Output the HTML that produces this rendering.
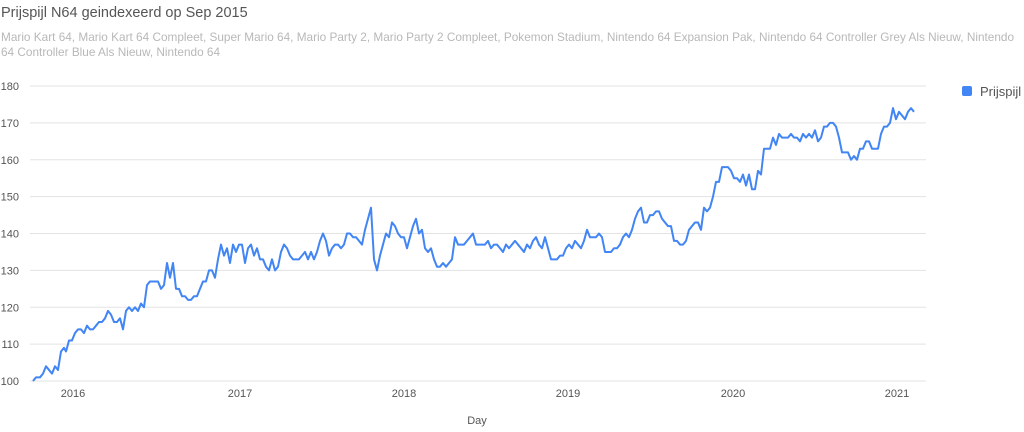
<!DOCTYPE html>
<html><head><meta charset="utf-8"><style>
body{margin:0;background:#fff;font-family:"Liberation Sans",sans-serif}
</style></head><body>
<svg width="1024" height="427" xmlns="http://www.w3.org/2000/svg" font-family="Liberation Sans, sans-serif">
<text x="1" y="17" font-size="14.5" fill="#555">Prijspijl N64 geindexeerd op Sep 2015</text>
<text x="1" y="41" font-size="11.8" fill="#b8b8b8">Mario Kart 64, Mario Kart 64 Compleet, Super Mario 64, Mario Party 2, Mario Party 2 Compleet, Pokemon Stadium, Nintendo 64 Expansion Pak, Nintendo 64 Controller Grey Als Nieuw, Nintendo</text>
<text x="1" y="56" font-size="11.8" fill="#b8b8b8">64 Controller Blue Als Nieuw, Nintendo 64</text>
<g id="grid" stroke="#e3e3e3" stroke-width="1"></g>
<g id="yl" font-size="11" fill="#555" text-anchor="end"></g>
<g font-size="11" fill="#555" text-anchor="middle">
<text x="73" y="397">2016</text><text x="240" y="397">2017</text><text x="404" y="397">2018</text>
<text x="568" y="397">2019</text><text x="733" y="397">2020</text><text x="897" y="397">2021</text>
<text x="477" y="424">Day</text></g>
<polyline id="ln" fill="none" stroke="#4285f4" stroke-width="2" stroke-linejoin="round"/>
<rect x="962" y="86" width="10" height="10" rx="2" fill="#4285f4"/>
<text x="980" y="96" font-size="13" fill="#555">Prijspijl</text>
</svg>
<script>
var Y=function(v){return 381-(v-100)*3.6875};
var g=document.getElementById('grid'),yl=document.getElementById('yl'),ns="http://www.w3.org/2000/svg";
for(var v=100;v<=180;v+=10){var l=document.createElementNS(ns,'line');l.setAttribute('x1',30);l.setAttribute('x2',926);l.setAttribute('y1',Y(v));l.setAttribute('y2',Y(v));g.appendChild(l);
var t=document.createElementNS(ns,'text');t.setAttribute('x',19);t.setAttribute('y',Y(v)+4);t.textContent=v;yl.appendChild(t);}
var d=[100,101,101,102,104,103,102,104,103,108,109,108,111,111,113,114,114,113,115,114,114,115,116,116,117,119,118,116,116,117,114,119,120,119,120,119,121,120,126,127];
var xs=[33,36,40,43,46,49,52,55,58,61,64,66,69,72,75,78,81,84,87,90,93,96,99,102,105,108,111,114,117,120,123,126,129,132,135,138,141,144,147,150];
var rest=[127,125,126,132,128,132,125,125,123,123,122,122,123,123,125,127,127,130,130,128,133,137,134,136,132,137,135,137,137,132,136,137,134,136,133,133,131,130,133,130,131,135,137,136,134,133,133,133,134,135,133,135,133,135,138,140,138,134,136,137,137,136,137,140,140,139,139,138,137,141,144,147,133,130,134,137,140,139,143,142,140,139,139,136,139,142,144,140,141,136,135,136,133,131,131,132,131,132,133,139,137,137,137,138,139,140,137,137,137,137,138,136,137,137,136,135,137,136,137,138,137,136,135,137,136,138,139,137,136,139,136,133,133,133,134,134,136,137,136,138,137,136,138,141,139,139,139,140,139,135,135,135,136,136,137,139,140,139,141,144,146,147,143,143,145,145,146,146,144,143,142,142,138,138,137,137,138,141,142,143,143,141,147,146,147,150,154,154,158,158,158,157,155,155,154,156,153,156,152,152,157,156,163,163,163,166,164,167,166,166,166,167,166,166,165,167,166,167,166,168,165,166,169,169,170,170,169,166,162,162,162,160,161,160,163,163,165,165,163,163,163,167,169,169,170,174,171,173,172,171,173,174,173];
var pts=[];for(var i=0;i<d.length;i++)pts.push(xs[i]+','+Y(d[i]));
var x=158;for(var i=0;i<rest.length;i++){pts.push(x+','+Y(rest[i]));x+=3;}
document.getElementById('ln').setAttribute('points',pts.join(' '));
</script>
</body></html>
